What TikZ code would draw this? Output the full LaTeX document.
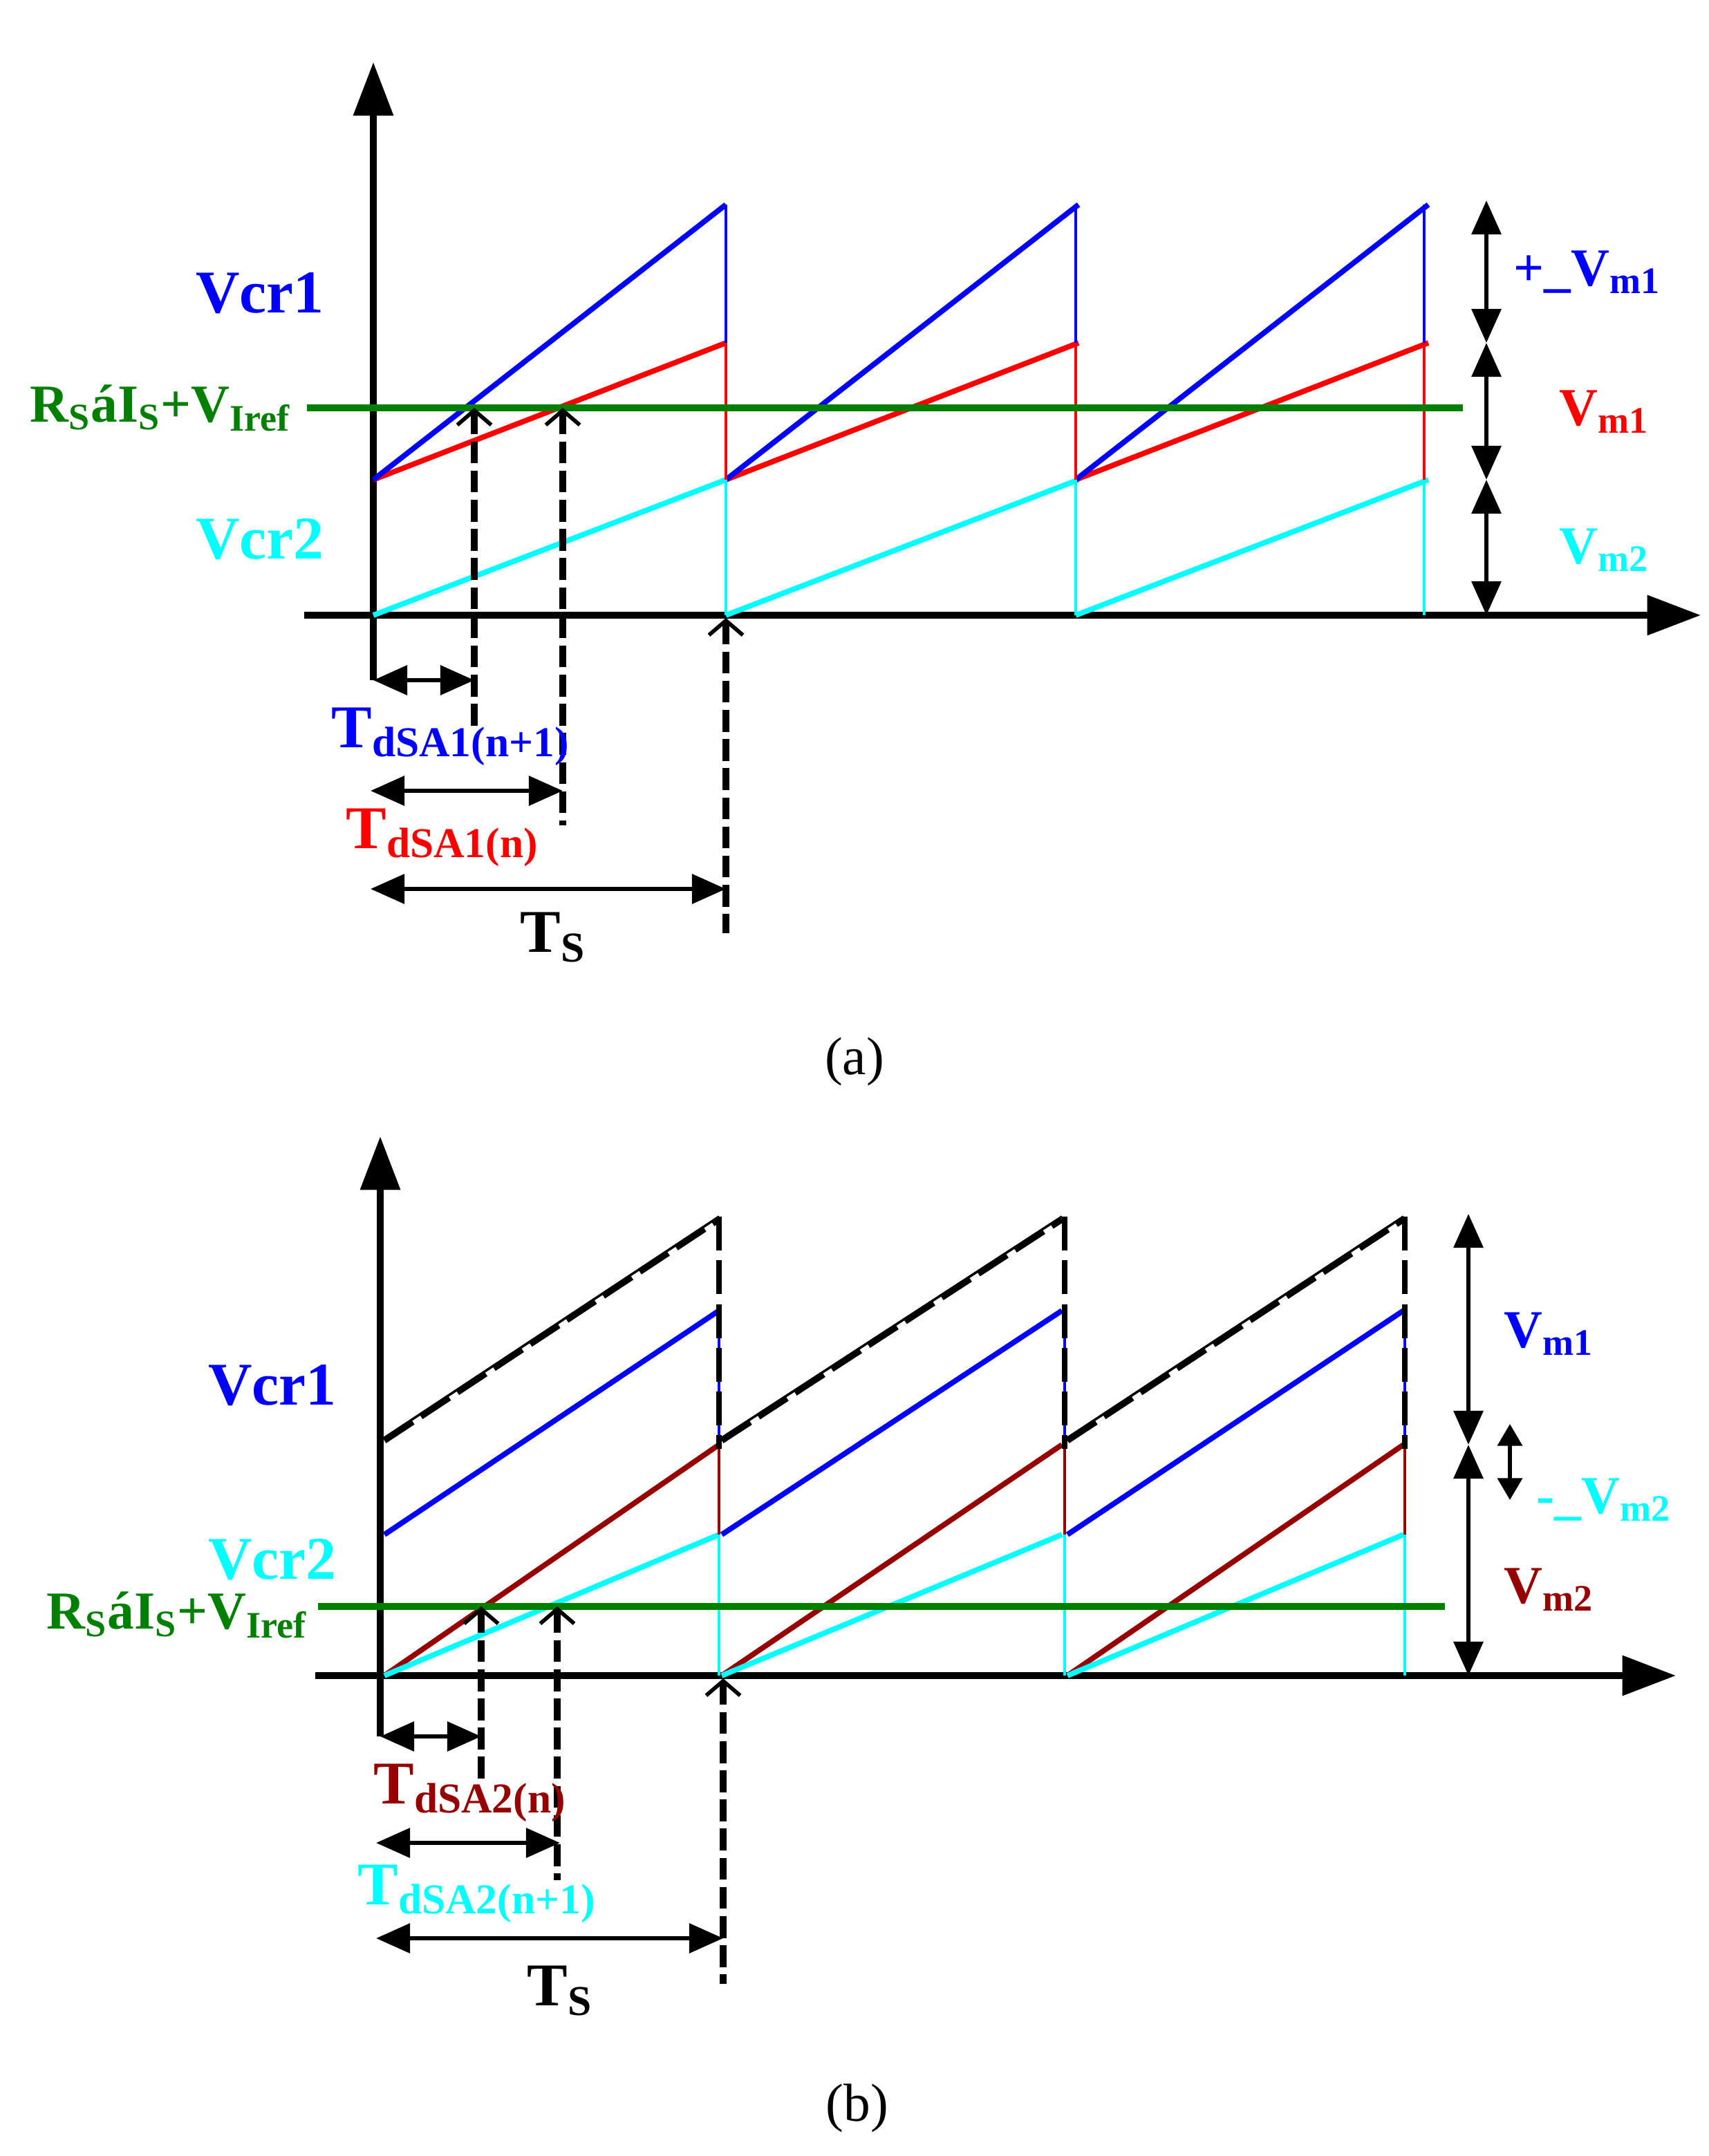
\documentclass[tikz,border=0pt]{standalone}
\usepackage{fontspec}
\setmainfont{Liberation Serif}
\usetikzlibrary{arrows.meta}
\definecolor{cyn}{RGB}{0,255,255}
\definecolor{dred}{RGB}{150,0,0}
\definecolor{grn}{RGB}{0,128,0}
\newcommand\sbs[1]{\textsubscript{#1}}
\begin{document}
\begin{tikzpicture}[x=0.02cm,y=-0.02cm,
    axis/.style={line width=2.6pt, -{Triangle[length=22pt,width=16pt]}},
    saw/.style={line width=2.2pt},
    tick/.style={line width=1pt},
    ref/.style={line width=2.6pt, grn},
    cue/.style={line width=2.6pt, dash pattern=on 9pt off 3pt, {Straight Barb[length=6pt,width=14pt,line width=1.6pt]}-},
    span/.style={line width=1.8pt, {Triangle[length=14pt,width=12pt]}-{Triangle[length=14pt,width=12pt]}},
    lbl/.style={font=\fontsize{25}{28}\selectfont\bfseries},
    rlbl/.style={font=\fontsize{22}{26}\selectfont\bfseries},
    sml/.style={font=\fontsize{22}{26}\selectfont\bfseries}
]
\useasboundingbox (0,0) rectangle (1235.5,1559.5);
%% (a)
\coordinate (a0) at (270,492);
\draw[axis] (a0) -- (270,45);
\draw[axis] (220,445) -- (1230,445);
\foreach \x/\n in {270/1,525/2,778/3} {
  \draw[saw, red] (\x,347) -- ++(255,-99);
  \draw[saw, blue] (\x,347) -- ++(255,-199);
  \draw[saw, cyn] (\x,445) -- ++(255,-98);
}
\foreach \x in {525,778,1030} {
  \draw[tick, blue] (\x,148) -- (\x,248);
  \draw[tick, red] (\x,248) -- (\x,347);
  \draw[tick, cyn] (\x,347) -- (\x,445);
}
\draw[ref] (222,295) -- (1058,295);
\coordinate (a1) at (343,295);
\coordinate (a2) at (407,295);
\coordinate (a3) at (525,447);
\draw[cue] (a1) -- (343,525);
\draw[cue] (a2) -- (407,597);
\draw[cue] (a3) -- (525,675);
\draw[span] (a0) -- (343,492);
\draw[span] (268,572) -- (407,572);
\draw[span] (268,643) -- (525,643);
\draw[span] (1075,145) -- (1075,248);
\draw[span] (1075,248) -- (1075,347);
\draw[span] (1075,347) -- (1075,445);
\node[lbl, blue] (vcr1a) at (188,212) {Vcr1};
\node[lbl, cyn] (vcr2a) at (188,390) {Vcr2};
\node[rlbl, grn] (refa) at (116,295) {R\sbs{S}áI\sbs{S}+V\sbs{Iref}};
\node[lbl, blue] (tn1a) at (326,533) {T\sbs{dSA1(n+1)}};
\node[lbl, red] (tna) at (320,606) {T\sbs{dSA1(n)}};
\node[lbl] (tsa) at (400,678) {T\sbs{S}};
\node[sml, blue] (vm1a) at (1148,197) {+\_V\sbs{m1}};
\node[sml, red] (vm1b) at (1160,298) {V\sbs{m1}};
\node[sml, cyn] (vm2a) at (1160,398) {V\sbs{m2}};
\node[font=\fontsize{22}{26}\selectfont] (capa) at (618,768) {(a)};
%% (b)
\coordinate (b0) at (275,1256);
\draw[axis] (b0) -- (275,822);
\draw[axis] (228,1212) -- (1212,1212);
\foreach \x/\e in {278/520,772/1015,522/768} {
  \draw[saw, dred] (\x,1212) -- (\e,1045);
  \draw[saw, cyn] (\x,1212) -- (\e,1110);
}
\foreach \x/\e in {278/520,522/768,772/1015} {
  \draw[saw, blue] (\x,1110) -- (\e,948);
  \draw[line width=2.6pt, dash pattern=on 14pt off 4pt] (\x,1042) -- (\e,882);
  \draw[tick] (\x,1040) -- (\e,880);
}
\foreach \x in {520,770,1016} {
  \draw[tick, blue] (\x,948) -- (\x,1110);
  \draw[tick, dred] (\x,1045) -- (\x,1110);
  \draw[tick, cyn] (\x,1110) -- (\x,1212);
  \draw[line width=2.4pt, dash pattern=on 14pt off 4pt] (\x,880) -- (\x,1048);
}
\draw[ref] (230,1162) -- (1045,1162);
\coordinate (b1) at (348,1162);
\coordinate (b2) at (403,1162);
\coordinate (b3) at (523,1214);
\draw[cue] (b1) -- (348,1290);
\draw[cue] (b2) -- (403,1360);
\draw[cue] (b3) -- (523,1435);
\draw[span] (b0) -- (348,1256);
\draw[span] (272,1333) -- (405,1333);
\draw[span] (272,1402) -- (523,1402);
\draw[span] (1062,878) -- (1062,1045);
\draw[span] (1062,1045) -- (1062,1212);
\draw[line width=1.8pt, {Triangle[length=9pt,width=10pt]}-{Triangle[length=9pt,width=10pt]}] (1092,1030) -- (1092,1085);
\node[lbl, blue] (vcr1b) at (197,1002) {Vcr1};
\node[lbl, cyn] (vcr2b) at (197,1128) {Vcr2};
\node[rlbl, grn] (refb) at (128,1168) {R\sbs{S}áI\sbs{S}+V\sbs{Iref}};
\node[lbl, dred] (tnb) at (340,1297) {T\sbs{dSA2(n)}};
\node[lbl, cyn] (tn1b) at (345,1370) {T\sbs{dSA2(n+1)}};
\node[lbl] (tsb) at (405,1440) {T\sbs{S}};
\node[sml, blue] (vm1c) at (1120,965) {V\sbs{m1}};
\node[sml, cyn] (vm2b) at (1160,1085) {-\_V\sbs{m2}};
\node[sml, dred] (vm2c) at (1120,1150) {V\sbs{m2}};
\node[font=\fontsize{22}{26}\selectfont] (capb) at (620,1525) {(b)};
\end{tikzpicture}
\end{document}
